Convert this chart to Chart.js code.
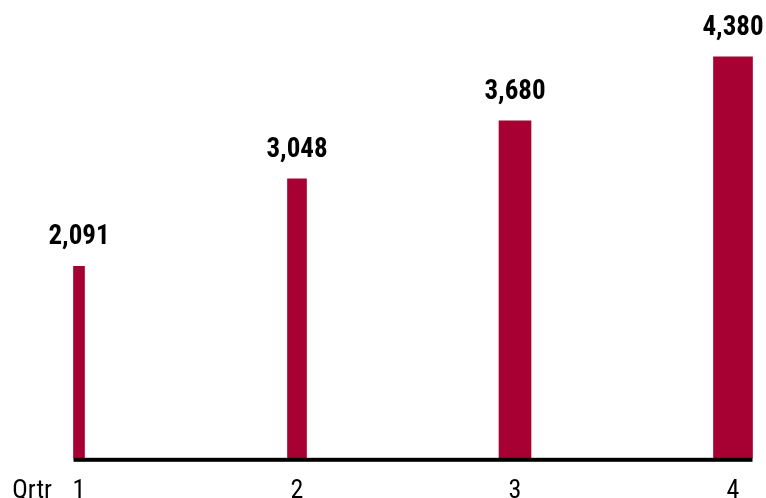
<!DOCTYPE html>
<html>
<head>
<meta charset="utf-8">
<script src="https://cdn.jsdelivr.net/npm/chart.js@4.4.0/dist/chart.umd.min.js"></script>
<style>
  html, body { margin: 0; padding: 0; background: #fff; overflow: hidden; }
  #wrap { position: relative; width: 766px; height: 525px; }
</style>
</head>
<body>
<div id="wrap"><canvas id="grafico"></canvas></div>
<script>
const quarters = ["1", "2", "3", "4"];
const revenue = [2091, 3048, 3680, 4380];
const axisLabel = "Qrtr";
const yMax = 5000;

const barColor = "#a70033";
const barWidths = [11, 19, 32, 39];
const narrow = "'Roboto Condensed', 'DejaVu Sans Condensed', sans-serif";

const fmt = v => v.toLocaleString("en-US");

/* um dataset por trimestre para cada barra ter a sua largura */
const datasets = revenue.map((v, i) => ({
  data: quarters.map((q, j) => (j === i ? v : null)),
  backgroundColor: barColor,
  barThickness: barWidths[i],
  grouped: false,
  clip: false
}));

const rotulos = {
  id: "rotulos",
  afterDatasetsDraw(chart) {
    const ctx = chart.ctx;
    const y = chart.scales.y;
    const base = y.getPixelForValue(0);
    const n = revenue.length;
    const first = chart.getDatasetMeta(0).data[0];
    const last = chart.getDatasetMeta(n - 1).data[n - 1];
    const x0 = first.x - first.width / 2;
    const x1 = last.x + last.width / 2;

    ctx.save();
    // linha do eixo
    ctx.fillStyle = "#000";
    ctx.fillRect(x0, base, x1 - x0, 4);

    // valores em cima das barras
    ctx.font = "bold 27px " + narrow;
    ctx.textAlign = "center";
    ctx.textBaseline = "alphabetic";
    revenue.forEach((v, i) => {
      const bar = chart.getDatasetMeta(i).data[i];
      ctx.fillText(fmt(v), bar.x, bar.y - 22);
    });

    // "Qrtr" ao lado do primeiro tick
    const items = chart.scales.x.getLabelItems();
    if (items.length) {
      const it = items[0];
      ctx.font = "26px " + narrow;
      ctx.textAlign = "right";
      ctx.textBaseline = it.options.textBaseline;
      ctx.fillText(axisLabel, it.options.translation[0] - 27, it.options.translation[1] + it.textOffset);
    }
    ctx.restore();
  }
};

new Chart(document.getElementById("grafico"), {
  type: "bar",
  data: { labels: quarters, datasets: datasets },
  options: {
    responsive: true,
    maintainAspectRatio: false,
    animation: false,
    layout: { padding: { left: 79, right: 33, top: 0, bottom: 0 } },
    plugins: { legend: { display: false }, tooltip: { enabled: false } },
    scales: {
      x: {
        offset: false,
        grid: { display: false, drawTicks: false },
        border: { display: false },
        ticks: {
          color: "#000",
          padding: 18,
          autoSkip: false,
          maxRotation: 0,
          font: { family: narrow, size: 26, lineHeight: 1.2 }
        }
      },
      y: {
        display: false,
        min: 0,
        max: yMax
      }
    }
  },
  plugins: [rotulos]
});
</script>
</body>
</html>
